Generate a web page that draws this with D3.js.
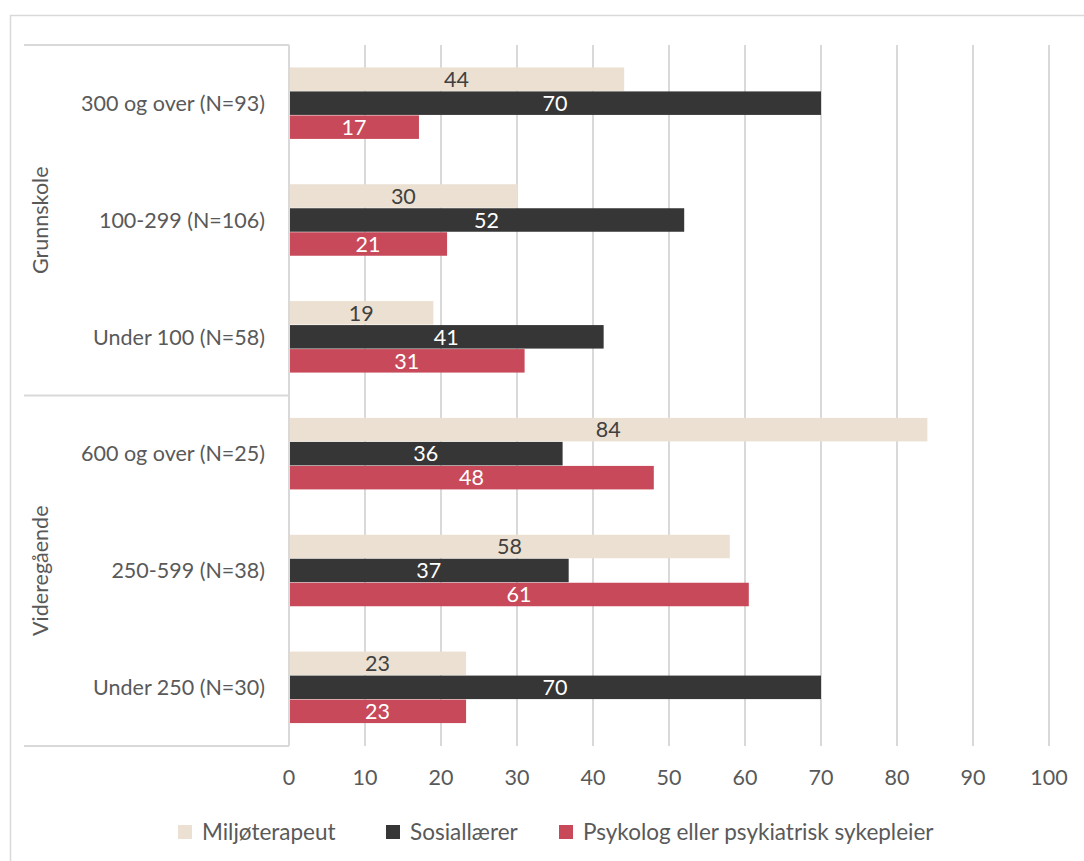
<!DOCTYPE html>
<html>
<head>
<meta charset="utf-8">
<script src="https://cdn.jsdelivr.net/npm/d3@7"></script>
<style>
  body { margin: 0; background: white; }
  text { font-family: Lato, "Open Sans", sans-serif; }
</style>
</head>
<body>
<div id="container"></div>
<script>
let w = 1084;
let h = 861;

// data
let categories = ["300 og over (N=93)", "100-299 (N=106)", "Under 100 (N=58)",
                  "600 og over (N=25)", "250-599 (N=38)", "Under 250 (N=30)"];
let groups = ["Grunnskole", "Videregående"];
let seriesNames = ["Miljøterapeut", "Sosiallærer", "Psykolog eller psykiatrisk sykepleier"];
let miljo = [44.1, 30.1, 19, 84, 58, 23.3];
let sosial = [70, 52, 41.4, 36, 36.8, 70];
let psyk = [17.1, 20.8, 31, 48, 60.5, 23.3];
let ticks = [0, 10, 20, 30, 40, 50, 60, 70, 80, 90, 100];

let colors = ["#ebe0d1", "#363636", "#c84a5a"];
let labelColors = ["#404040", "white", "white"];
let fs = "21.5px";

let viz = d3.select("#container")
  .append("svg")
    .attr("width", w)
    .attr("height", h)
;

//outer frame
viz.append("rect")
  .attr("x", 10.5).attr("y", 15.5)
  .attr("width", w + 20).attr("height", h + 20)
  .attr("fill", "none")
  .style("stroke", "#d9d9d9")
  .style("stroke-width", 1.5)
;

let plotLeft = 289, plotRight = 1049, plotTop = 45, plotBottom = 746;

let x = d3.scaleLinear().domain([0, 100]).range([plotLeft, plotRight]);
let y = d3.scaleBand().domain(categories).range([plotTop, plotBottom]);
let inner = d3.scaleBand().domain(d3.range(3)).range([0, 72]);

//grid
viz.selectAll(".grid").data(ticks).enter()
  .append("line")
    .attr("x1", d => x(d)).attr("x2", d => x(d))
    .attr("y1", plotTop).attr("y2", plotBottom)
    .style("stroke", "#d9d9d9")
    .style("stroke-width", 2)
;

//tick labels
viz.selectAll(".tick").data(ticks).enter()
  .append("text")
    .text(d => d)
    .attr("x", d => x(d))
    .attr("y", 777)
    .attr("dy", "0.35em")
    .attr("text-anchor", "middle")
    .style("fill", "#595959")
    .style("font-size", fs)
;

//group separators on the left
let sepY = [plotTop, y(categories[3]), plotBottom];
viz.selectAll(".sep").data(sepY).enter()
  .append("line")
    .attr("x1", 24).attr("x2", plotLeft)
    .attr("y1", d => d).attr("y2", d => d)
    .style("stroke", "#d9d9d9")
    .style("stroke-width", 2)
;

//category labels
viz.selectAll(".cat").data(categories).enter()
  .append("text")
    .text(d => d)
    .attr("x", 265)
    .attr("y", d => y(d) + y.bandwidth() / 2)
    .attr("dy", "0.35em")
    .attr("text-anchor", "end")
    .style("fill", "#595959")
    .style("font-size", fs)
;

//group labels, rotated
viz.selectAll(".grp").data(groups).enter()
  .append("text")
    .text(d => d)
    .attr("transform", (d, i) => {
      let cy = (sepY[i] + sepY[i + 1]) / 2;
      return "translate(40," + cy + ") rotate(-90)";
    })
    .attr("dy", "0.35em")
    .attr("text-anchor", "middle")
    .style("fill", "#595959")
    .style("font-size", fs)
;

let allSeries = [miljo, sosial, psyk];
let rows = [];
allSeries.forEach((vals, s) => {
  vals.forEach((v, i) => rows.push({ s: s, cat: categories[i], v: v }));
});

function barY(d) {
  return y(d.cat) + y.bandwidth() / 2 - 36 + inner(d.s);
}

viz.selectAll(".bar").data(rows).enter()
  .append("rect")
    .attr("x", x(0) + 1)
    .attr("y", d => barY(d))
    .attr("width", d => x(d.v) - x(0) - 1)
    .attr("height", inner.bandwidth() - 0.5)
    .style("fill", d => colors[d.s])
;

viz.selectAll(".val").data(rows).enter()
  .append("text")
    .text(d => Math.round(d.v))
    .attr("x", d => (x(0) + x(d.v)) / 2)
    .attr("y", d => barY(d) + inner.bandwidth() / 2)
    .attr("dy", "0.35em")
    .attr("text-anchor", "middle")
    .style("fill", d => labelColors[d.s])
    .style("font-size", fs)
;

//legend
let legendX = [178, 386, 559];
let legend = viz.selectAll(".leg").data(seriesNames).enter()
  .append("g")
    .attr("transform", (d, i) => "translate(" + legendX[i] + ",825)")
;
legend.append("rect")
  .attr("width", 14).attr("height", 14)
  .style("fill", (d, i) => colors[i]);
legend.append("text")
  .text(d => d)
  .attr("x", 24)
  .attr("y", 7)
  .attr("dy", "0.35em")
  .style("fill", "#595959")
  .style("font-size", "22.5px");
</script>
</body>
</html>
